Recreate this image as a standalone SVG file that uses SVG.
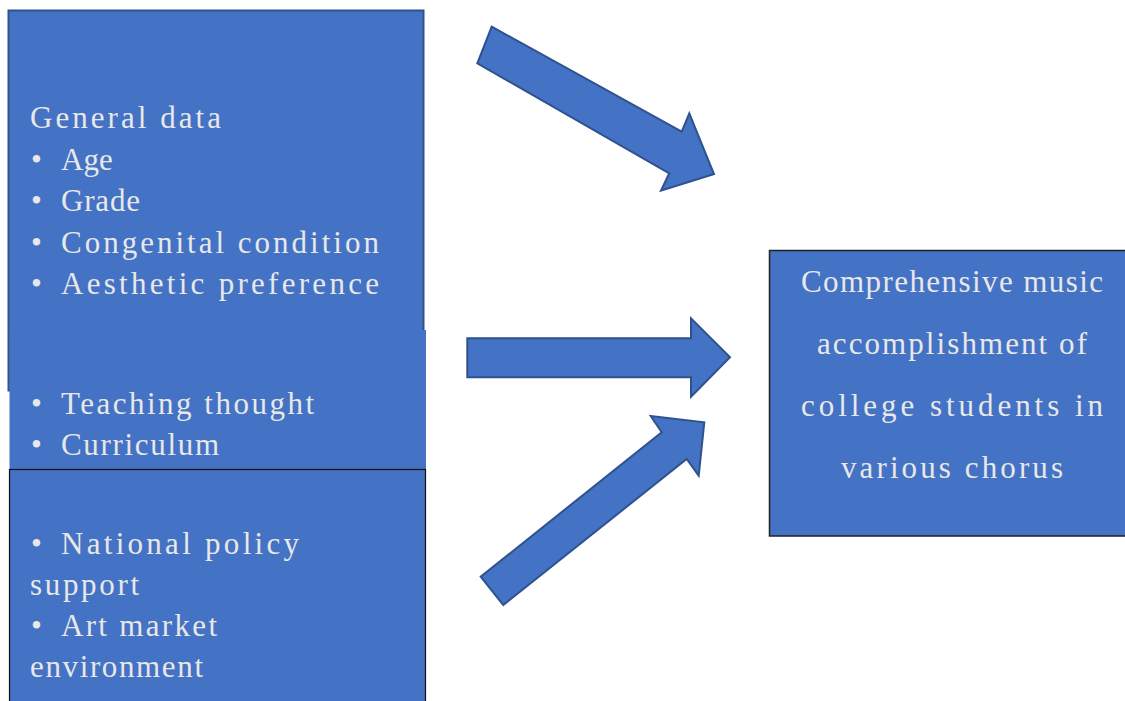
<svg xmlns="http://www.w3.org/2000/svg" width="1125" height="701" viewBox="0 0 1125 701">
<style>
.box{fill:#4472C4}
.t{font-family:"Liberation Serif","DejaVu Serif",serif;font-size:31px;fill:#E8E8E8}
.arrow{fill:#4472C4;stroke:#2F528F;stroke-width:2;stroke-linejoin:miter}
</style>
<rect width="1125" height="701" fill="#FFFFFF"/>
<g id="node-general">
<rect class="box" x="8.5" y="10.5" width="415" height="380" stroke="#2F528F" stroke-width="2"/>
<text class="t" x="30" y="128" textLength="191" lengthAdjust="spacing">General data</text>
<text class="t" y="170"><tspan x="31">•</tspan><tspan x="61">Age</tspan></text>
<text class="t" y="211"><tspan x="31">•</tspan><tspan x="61" textLength="79" lengthAdjust="spacing">Grade</tspan></text>
<text class="t" y="253"><tspan x="31">•</tspan><tspan x="61" textLength="318" lengthAdjust="spacing">Congenital condition</tspan></text>
<text class="t" y="294"><tspan x="31">•</tspan><tspan x="61" textLength="318" lengthAdjust="spacing">Aesthetic preference</tspan></text>
</g>
<g id="node-teaching">
<rect class="box" x="9.5" y="330" width="416.5" height="139"/>
<text class="t" y="414"><tspan x="31">•</tspan><tspan x="61" textLength="253" lengthAdjust="spacing">Teaching thought</tspan></text>
<text class="t" y="455"><tspan x="31">•</tspan><tspan x="61" textLength="158" lengthAdjust="spacing">Curriculum</tspan></text>
</g>
<g id="node-policy">
<rect class="box" x="9.5" y="469.5" width="416" height="240" stroke="#111111" stroke-width="1.2"/>
<text class="t" y="554"><tspan x="31">•</tspan><tspan x="61" textLength="238" lengthAdjust="spacing">National policy</tspan></text>
<text class="t" x="30" y="595" textLength="109" lengthAdjust="spacing">support</text>
<text class="t" y="636"><tspan x="31">•</tspan><tspan x="61" textLength="156" lengthAdjust="spacing">Art market</tspan></text>
<text class="t" x="30" y="677" textLength="173" lengthAdjust="spacing">environment</text>
</g>
<g id="node-result">
<rect class="box" x="769.5" y="250.5" width="355.5" height="285.5"/>
<path d="M1125,250.5 H769.5 V536 H1125" fill="none" stroke="#222222" stroke-width="1.5"/>
<text class="t" x="801" y="292" textLength="302" lengthAdjust="spacing">Comprehensive music</text>
<text class="t" x="817" y="354" textLength="270" lengthAdjust="spacing">accomplishment of</text>
<text class="t" x="801" y="416" textLength="302" lengthAdjust="spacing">college students in</text>
<text class="t" x="841" y="478" textLength="222" lengthAdjust="spacing">various chorus</text>
</g>
<g id="connectors">
<polygon class="arrow" points="491.7,26.7 681.7,131.7 689.3,113.3 714,174 661,190.7 669.3,173.3 477.3,63.3"/>
<polygon class="arrow" points="467.3,338.3 691,338.3 691,318.3 730,357.3 691,396.7 691,377.3 467.3,377.3"/>
<polygon class="arrow" points="503.3,605 686.7,459 698.7,475.7 704.3,422.3 650.7,416 661.7,432.3 480.7,576.7"/>
</g>
</svg>
